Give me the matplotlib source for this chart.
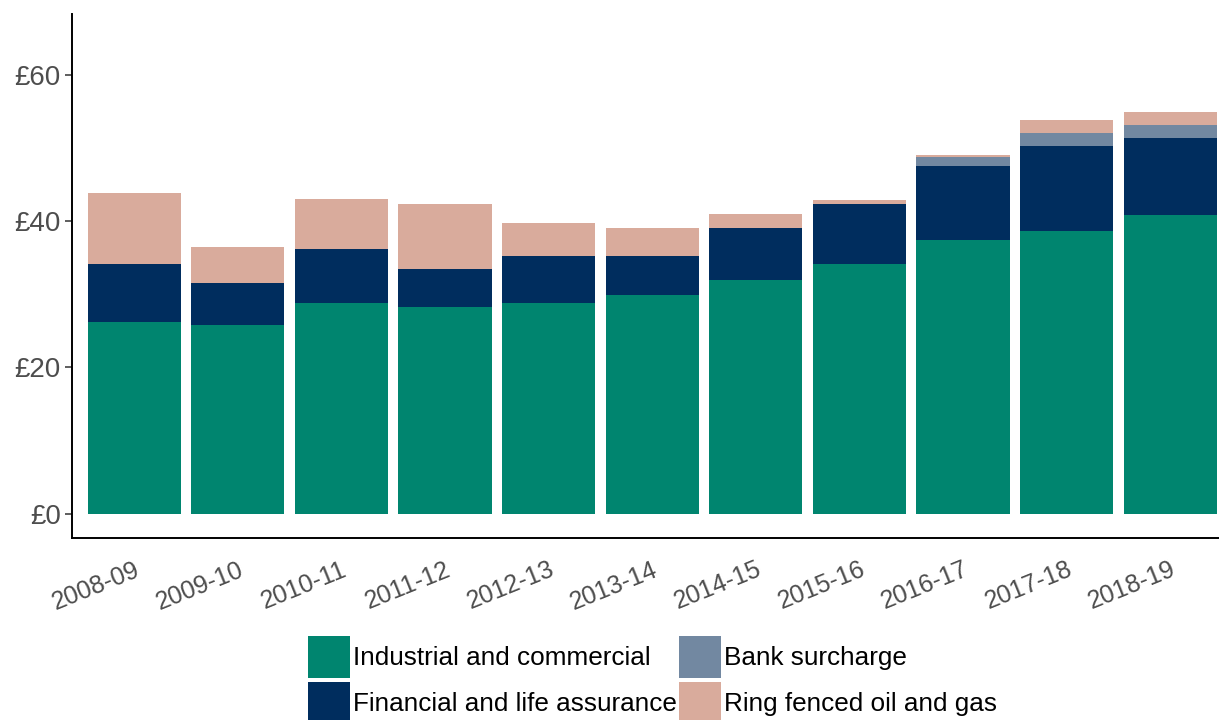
import numpy as np
import matplotlib
matplotlib.use("Agg")
import matplotlib.pyplot as plt
import matplotlib.transforms as mtransforms

plt.rcParams['font.family'] = ['Liberation Sans', 'DejaVu Sans']

years = ["2008-09", "2009-10", "2010-11", "2011-12", "2012-13", "2013-14",
         "2014-15", "2015-16", "2016-17", "2017-18", "2018-19"]

# £ billion
industrial = [26.2, 25.8, 28.8, 28.2, 28.8, 29.9, 31.9, 34.2, 37.4, 38.6, 40.9]
financial = [7.9, 5.8, 7.4, 5.3, 6.5, 5.4, 7.2, 8.1, 10.1, 11.6, 10.4]
bank = [0.0, 0.0, 0.0, 0.0, 0.0, 0.0, 0.0, 0.0, 1.2, 1.9, 1.8]
oil_gas = [9.8, 4.9, 6.8, 8.8, 4.4, 3.7, 1.9, 0.6, 0.3, 1.7, 1.8]

yticks = [0, 20, 40, 60]
ytick_labels = ["£0", "£20", "£40", "£60"]

colours = {
    "Industrial and commercial": "#00856f",
    "Financial and life assurance": "#002d5e",
    "Bank surcharge": "#7288a1",
    "Ring fenced oil and gas": "#d9ab9c",
}

fig = plt.figure(figsize=(12.19, 7.2), dpi=100)
ax = fig.add_axes([72 / 1219, 1 - 538 / 720, 1160.3 / 1219, 524 / 720])

x = np.arange(len(years))
series = [industrial, financial, bank, oil_gas]
bottom = np.zeros(len(years))
handles = []
for vals, (name, col) in zip(series, colours.items()):
    bars = ax.bar(x, vals, width=0.9, bottom=bottom, color=col, label=name)
    handles.append(bars)
    bottom += np.array(vals)

ax.set_xlim(-0.6, 10.6)
ax.set_ylim(-3.3, 68.3)
ax.set_yticks(yticks)
ax.set_yticklabels(ytick_labels)
ax.set_xticks(x)
ax.set_xticklabels(years, rotation=22, ha="right", va="top", rotation_mode="anchor")

# nudge the rotated year labels a little to the right, as in the original
shift = mtransforms.ScaledTranslation(6 / 100, 0, fig.dpi_scale_trans)
for lab in ax.get_xticklabels():
    lab.set_transform(lab.get_transform() + shift)

for s in ["top", "right"]:
    ax.spines[s].set_visible(False)
for s in ["left", "bottom"]:
    ax.spines[s].set_linewidth(1.4)
    ax.spines[s].set_color("black")

ax.tick_params(axis="y", length=5, width=1.1, color="#333333", labelsize=20,
               labelcolor="#4d4d4d", pad=3)
ax.tick_params(axis="x", length=0, labelsize=18, labelcolor="#4d4d4d", pad=14)

fs = 18.8
fig.legend(handles=handles, labels=list(colours.keys()), ncol=2,
           loc="upper left", bbox_to_anchor=(308 / 1219, 1 - 636 / 720),
           frameon=False, fontsize=fs, borderpad=0, borderaxespad=0,
           handlelength=30.24 / fs, handleheight=(30.24 / fs - 0.245) / 0.65,
           handletextpad=2.16 / fs, labelspacing=2.88 / fs, columnspacing=0.1)

fig.savefig("out.png", dpi=100)
